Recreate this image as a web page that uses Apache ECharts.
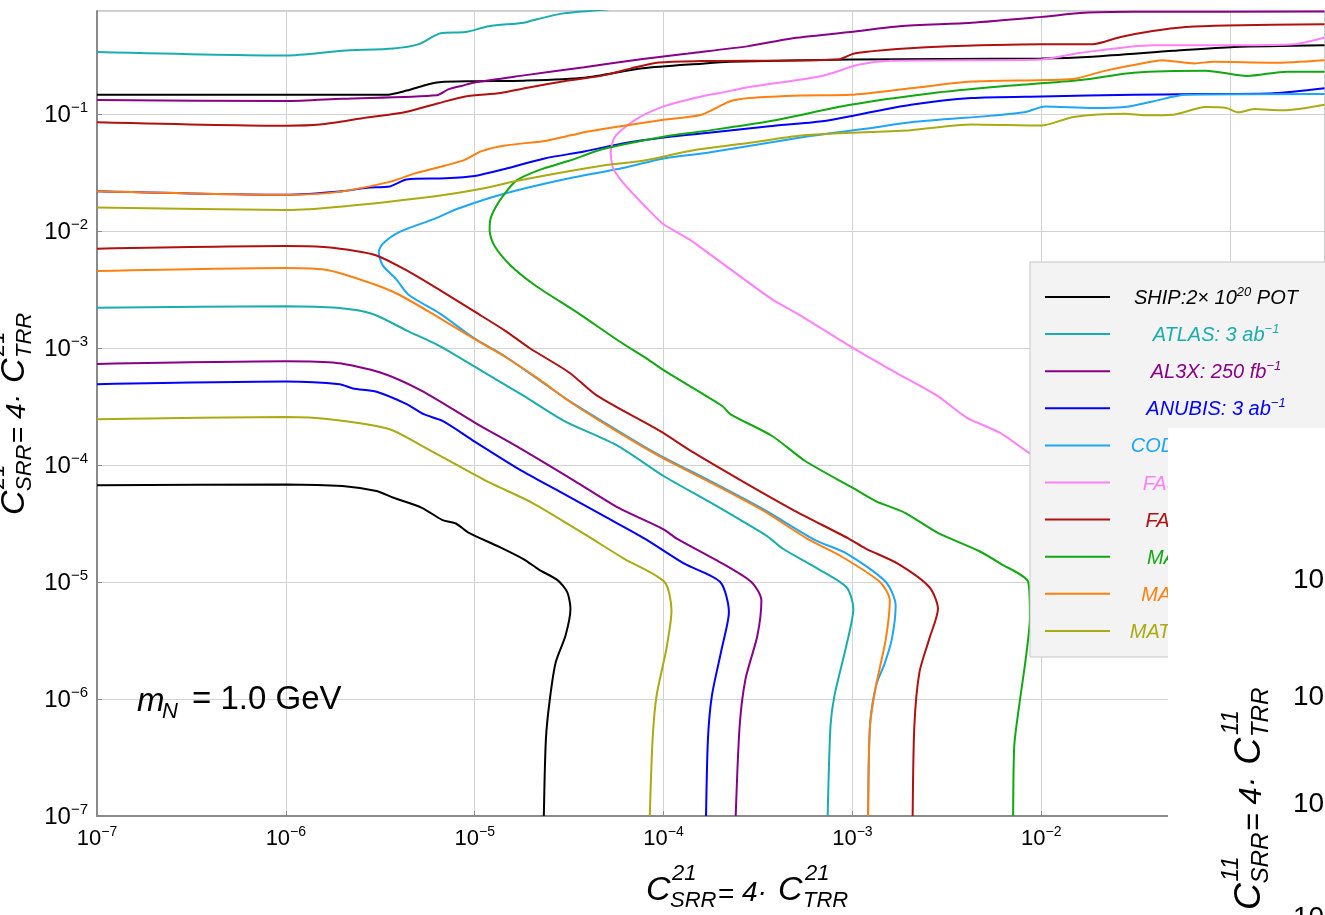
<!DOCTYPE html>
<html>
<head>
<meta charset="utf-8">
<script src="https://cdn.jsdelivr.net/npm/echarts@6/dist/echarts.min.js"></script>
<style>
  html, body { margin: 0; padding: 0; background: #fff; }
  #chart { width: 1325px; height: 915px; }
</style>
</head>
<body>
<div id="chart"></div>
<script>
// every point is [log10 C21, log10 C11]
const shipTop = [[-7,-0.836],[-5.47,-0.836],[-5.36,-0.80],[-5.20,-0.73],[-5.0,-0.72],[-4.74,-0.715],[-4.42,-0.69],[-4.11,-0.61],[-3.80,-0.57],[-3.65,-0.554],[-3.01,-0.534],[-2.0,-0.525],[-1.73,-0.51],[-1.30,-0.46],[-0.98,-0.427],[-0.5,-0.412]];
const shipBottom = [[-7,-4.174],[-6,-4.166],[-5.70,-4.18],[-5.52,-4.223],[-5.43,-4.28],[-5.28,-4.366],[-5.17,-4.471],[-5.10,-4.50],[-5.03,-4.58],[-4.87,-4.70],[-4.74,-4.806],[-4.66,-4.894],[-4.56,-4.986],[-4.51,-5.086],[-4.493,-5.229],[-4.519,-5.457],[-4.571,-5.686],[-4.602,-6.0],[-4.623,-6.343],[-4.634,-7]];

const atlasTop = [[-7,-0.47],[-6,-0.50],[-5.70,-0.46],[-5.43,-0.44],[-5.30,-0.405],[-5.18,-0.31],[-5.05,-0.30],[-4.925,-0.25],[-4.74,-0.22],[-4.67,-0.19],[-4.53,-0.14],[-4.32,-0.11],[-4.1,-0.06]];
const atlasBottom = [[-7,-2.657],[-6,-2.643],[-5.73,-2.657],[-5.54,-2.709],[-5.36,-2.851],[-5.19,-2.98],[-5.0,-3.16],[-4.74,-3.41],[-4.53,-3.62],[-4.24,-3.838],[-4.0,-4.094],[-3.75,-4.322],[-3.45,-4.61],[-3.37,-4.714],[-3.2,-4.871],[-3.032,-5.043],[-2.995,-5.229],[-3.032,-5.543],[-3.095,-5.971],[-3.116,-6.229],[-3.131,-7]];

const al3xTop = [[-7,-0.88],[-6,-0.89],[-5.70,-0.87],[-5.20,-0.84],[-5.14,-0.79],[-5.07,-0.76],[-5.0,-0.73],[-4.74,-0.67],[-4.42,-0.60],[-4.11,-0.53],[-3.87,-0.483],[-3.55,-0.42],[-3.33,-0.356],[-3.01,-0.30],[-2.75,-0.25],[-2.37,-0.22],[-2.0,-0.17],[-1.77,-0.135],[-1.51,-0.127],[-0.5,-0.125]];
const al3xBottom = [[-7,-3.137],[-6,-3.114],[-5.73,-3.129],[-5.50,-3.209],[-5.28,-3.366],[-5.0,-3.637],[-4.75,-3.866],[-4.47,-4.137],[-4.24,-4.365],[-4.0,-4.55],[-3.93,-4.629],[-3.72,-4.814],[-3.535,-5.0],[-3.482,-5.157],[-3.503,-5.457],[-3.566,-5.829],[-3.597,-6.229],[-3.618,-7]];

const anubisTop = [[-7,-1.66],[-6,-1.69],[-5.70,-1.66],[-5.57,-1.63],[-5.45,-1.62],[-5.36,-1.56],[-5.155,-1.55],[-5.0,-1.53],[-4.84,-1.47],[-4.63,-1.38],[-4.42,-1.32],[-4.21,-1.25],[-4.0,-1.20],[-3.76,-1.16],[-3.44,-1.105],[-3.16,-1.062],[-2.97,-1.006],[-2.69,-0.921],[-2.37,-0.864],[-2.0,-0.85],[-1.51,-0.836],[-1.19,-0.83],[-0.77,-0.822],[-0.5,-0.78]];
const anubisBottom = [[-7,-3.309],[-6,-3.286],[-5.715,-3.309],[-5.645,-3.346],[-5.52,-3.374],[-5.36,-3.48],[-5.27,-3.566],[-5.17,-3.623],[-5.0,-3.80],[-4.75,-4.051],[-4.54,-4.237],[-4.30,-4.45],[-4.1,-4.629],[-3.89,-4.843],[-3.70,-5.0],[-3.654,-5.257],[-3.692,-5.571],[-3.744,-5.971],[-3.765,-6.343],[-3.775,-7]];

const codexCurve = [[-0.5,-0.83],[-1.235,-0.836],[-1.41,-0.893],[-1.535,-0.935],[-1.73,-0.949],[-1.98,-0.935],[-2.09,-0.986],[-2.26,-1.014],[-2.69,-1.071],[-2.90,-1.119],[-3.225,-1.189],[-3.76,-1.33],[-4.0,-1.38],[-4.21,-1.46],[-4.53,-1.56],[-4.84,-1.68],[-5.09,-1.81],[-5.21,-1.894],[-5.40,-2.009],[-5.487,-2.109],[-5.508,-2.18],[-5.487,-2.294],[-5.417,-2.409],[-5.35,-2.545],[-5.18,-2.71],[-5.0,-2.92],[-4.85,-3.06],[-4.52,-3.43],[-4.28,-3.67],[-4.04,-3.90],[-3.75,-4.14],[-3.47,-4.38],[-3.2,-4.64],[-3.03,-4.757],[-2.823,-5.0],[-2.771,-5.2],[-2.791,-5.486],[-2.83,-5.70],[-2.875,-5.886],[-2.907,-6.229],[-2.917,-7]];

const faserCurve = [[-0.5,-0.347],[-0.66,-0.404],[-0.98,-0.412],[-1.41,-0.412],[-1.79,-0.477],[-2.0,-0.534],[-2.80,-0.545],[-2.97,-0.58],[-3.16,-0.675],[-3.545,-0.77],[-3.70,-0.82],[-3.80,-0.85],[-4.0,-0.935],[-4.15,-1.05],[-4.255,-1.19],[-4.28,-1.33],[-4.27,-1.45],[-4.255,-1.5],[-4.20,-1.615],[-4.10,-1.786],[-4.0,-1.943],[-3.864,-2.071],[-3.645,-2.328],[-3.425,-2.584],[-3.294,-2.704],[-3.0,-2.997],[-2.77,-3.211],[-2.55,-3.41],[-2.395,-3.595],[-2.22,-3.724],[-2.066,-3.895],[-1.6,-4.35],[-1.0,-4.9]];

const faser2Top = [[-7,-1.07],[-6,-1.10],[-5.82,-1.09],[-5.57,-1.03],[-5.385,-0.99],[-5.197,-0.91],[-5.05,-0.85],[-4.862,-0.82],[-4.736,-0.78],[-4.527,-0.72],[-4.318,-0.67],[-4.172,-0.61],[-4.025,-0.56],[-3.8,-0.548],[-3.075,-0.534],[-2.99,-0.483],[-2.84,-0.455],[-2.58,-0.427],[-2.0,-0.404],[-1.73,-0.404],[-1.58,-0.342],[-1.41,-0.291],[-1.235,-0.257],[-1.02,-0.243],[-0.5,-0.234]];
const faser2Bottom = [[-7,-2.151],[-6,-2.129],[-5.80,-2.137],[-5.63,-2.171],[-5.52,-2.209],[-5.36,-2.337],[-5.18,-2.51],[-5.0,-2.69],[-4.84,-2.851],[-4.71,-3.0],[-4.50,-3.209],[-4.35,-3.41],[-4.02,-3.709],[-3.84,-3.895],[-3.60,-4.123],[-3.32,-4.379],[-3.02,-4.629],[-2.93,-4.714],[-2.76,-4.843],[-2.593,-5.043],[-2.547,-5.229],[-2.593,-5.486],[-2.645,-5.771],[-2.672,-6.229],[-2.681,-7]];

const mapp1Curve = [[-0.5,-0.638],[-0.70,-0.638],[-0.91,-0.675],[-1.13,-0.63],[-1.51,-0.647],[-1.79,-0.709],[-2.22,-0.765],[-2.58,-0.822],[-3.01,-0.921],[-3.44,-1.062],[-3.80,-1.15],[-4.0,-1.195],[-4.32,-1.30],[-4.50,-1.40],[-4.66,-1.48],[-4.78,-1.57],[-4.85,-1.70],[-4.89,-1.80],[-4.917,-1.90],[-4.921,-2.0],[-4.895,-2.128],[-4.807,-2.299],[-4.675,-2.47],[-4.456,-2.698],[-4.237,-2.94],[-4.083,-3.097],[-3.996,-3.194],[-3.689,-3.496],[-3.645,-3.567],[-3.425,-3.752],[-3.25,-3.966],[-3.0,-4.194],[-2.877,-4.308],[-2.724,-4.407],[-2.55,-4.578],[-2.33,-4.735],[-2.216,-4.843],[-2.069,-5.0],[-2.06,-5.3],[-2.08,-5.629],[-2.122,-6.114],[-2.143,-6.4],[-2.149,-7]];

const mapp2Top = [[-7,-1.66],[-6,-1.69],[-5.74,-1.67],[-5.45,-1.58],[-5.32,-1.51],[-5.155,-1.44],[-5.05,-1.39],[-4.967,-1.32],[-4.84,-1.27],[-4.63,-1.23],[-4.485,-1.18],[-4.40,-1.15],[-4.21,-1.10],[-4.0,-1.05],[-3.80,-1.006],[-3.65,-0.893],[-3.545,-0.864],[-3.27,-0.842],[-3.01,-0.836],[-2.69,-0.78],[-2.37,-0.723],[-1.83,-0.70],[-1.68,-0.638],[-1.51,-0.582],[-1.36,-0.54],[-1.19,-0.568],[-1.09,-0.554],[-0.77,-0.562],[-0.5,-0.54]];
const mapp2Bottom = [[-7,-2.343],[-6,-2.317],[-5.77,-2.337],[-5.54,-2.451],[-5.40,-2.545],[-5.19,-2.74],[-5.0,-2.925],[-4.84,-3.075],[-4.66,-3.266],[-4.49,-3.466],[-4.29,-3.67],[-4.04,-3.909],[-3.75,-4.151],[-3.47,-4.393],[-3.24,-4.629],[-3.06,-4.78],[-2.854,-5.0],[-2.802,-5.157],[-2.823,-5.486],[-2.875,-5.886],[-2.907,-6.229],[-2.917,-7]];

const mathuslaTop = [[-7,-1.80],[-6,-1.82],[-5.70,-1.79],[-5.20,-1.70],[-5.0,-1.65],[-4.74,-1.56],[-4.32,-1.44],[-4.11,-1.40],[-3.84,-1.31],[-3.545,-1.246],[-3.27,-1.184],[-3.01,-1.161],[-2.69,-1.138],[-2.37,-1.09],[-2.0,-1.099],[-1.83,-1.025],[-1.556,-0.997],[-1.45,-1.011],[-1.30,-1.006],[-1.13,-0.941],[-1.02,-0.949],[-0.957,-0.986],[-0.872,-0.958],[-0.72,-0.969],[-0.5,-0.921]];
const mathuslaBottom = [[-7,-3.609],[-6,-3.589],[-5.77,-3.609],[-5.45,-3.694],[-5.28,-3.837],[-5.1,-3.994],[-4.92,-4.151],[-4.70,-4.32],[-4.41,-4.60],[-4.21,-4.80],[-3.995,-5.0],[-3.958,-5.243],[-3.985,-5.571],[-4.037,-5.971],[-4.058,-6.343],[-4.073,-7]];

const detectors = ['SHIP', 'ATLAS', 'AL3X', 'ANUBIS', 'CODEX-b', 'FASER', 'FASER2', 'MAPP1', 'MAPP2', 'MATHUSLA'];
const colors = ['#000000', '#1aadad', '#880088', '#0000ff', '#1ea6f5', '#ff80f8', '#b01010', '#11a811', '#ff8010', '#aaaa12'];
const curves = [
  [shipTop, shipBottom], [atlasTop, atlasBottom], [al3xTop, al3xBottom], [anubisTop, anubisBottom],
  [codexCurve], [faserCurve], [faser2Top, faser2Bottom], [mapp1Curve], [mapp2Top, mapp2Bottom],
  [mathuslaTop, mathuslaBottom]
];
// legend text: [before superscript, superscript, after]
const legendText = [
  ['SHIP:2\u00d7 10', '20', ' POT'], ['ATLAS: 3 ab', '\u22121', ''], ['AL3X: 250 fb', '\u22121', ''],
  ['ANUBIS: 3 ab', '\u22121', ''], ['CODEX-b: 300 fb', '\u22121', ''], ['FASER: 150 fb', '\u22121', ''],
  ['FASER2: 3 ab', '\u22121', ''], ['MAPP1: 30 fb', '\u22121', ''], ['MAPP2: 300 fb', '\u22121', ''],
  ['MATHUSLA: 3 ab', '\u22121', '']
];
const xMin = 1e-7, xMax = 0.318;
const yMin = 1e-7, yMax = 0.759;

const FONT = '"Liberation Sans", Arial, sans-serif';
const chart = echarts.init(document.getElementById('chart'));

const series = [];
detectors.forEach((name, i) => {
  curves[i].forEach(part => {
    series.push({
      name: name,
      type: 'line',
      data: part.map(p => [Math.pow(10, p[0]), Math.pow(10, p[1])]),
      showSymbol: false,
      silent: true,
      clip: true,
      smooth: 0.25,
      lineStyle: { color: colors[i], width: 2 },
      itemStyle: { color: colors[i] }
    });
  });
});

function expLabel(v) {
  const e = Math.round(Math.log10(v));
  return '{b|10}{s|' + (e < 0 ? '\u2212' + (-e) : e) + '}';
}

function t(x, y, text, size, italic, z) {
  return {
    type: 'text', x: x, y: y, z: z || 60,
    style: {
      text: text, fill: '#000',
      font: (italic ? 'italic ' : '') + size + 'px ' + FONT,
      align: 'left', verticalAlign: 'middle'
    }
  };
}

// C^{sup}_{SRR} = 4 . C^{sup}_{TRR}, laid out from the first C
function coeffTitle(sup) {
  return [
    t(0, 0, 'C', 34, true), t(26, -17, sup, 22, true), t(24, 10, 'SRR', 22, true),
    t(72, 4, '=', 28, false), t(96, 2, '4\u00b7', 28, true),
    t(132, 0, 'C', 34, true), t(159, -17, sup, 22, true), t(157, 10, 'TRR', 22, true)
  ];
}

const graphics = [];
// legend box
graphics.push({
  type: 'rect', z: 40,
  shape: { x: 1030, y: 262, width: 400, height: 395 },
  style: { fill: '#f3f3f3', stroke: '#c6c6c6', lineWidth: 1 }
});
detectors.forEach((name, i) => {
  const cy = 297 + i * 37.1;
  graphics.push({
    type: 'line', z: 41,
    shape: { x1: 1045, y1: cy, x2: 1110, y2: cy },
    style: { stroke: colors[i], lineWidth: 2 }
  });
  const lt = legendText[i];
  graphics.push({
    type: 'text', z: 41, x: 1216, y: cy,
    style: {
      text: '{a|' + lt[0] + '}{s|' + lt[1] + '}' + (lt[2] ? '{a|' + lt[2] + '}' : ''),
      align: 'center', verticalAlign: 'middle',
      rich: {
        a: { fill: colors[i], fontSize: 20, fontStyle: 'italic', fontFamily: FONT, verticalAlign: 'bottom' },
        s: { fill: colors[i], fontSize: 13, fontStyle: 'italic', fontFamily: FONT, verticalAlign: 'bottom', padding: [0, 0, 10, 0] }
      }
    }
  });
});
// neighbouring panel covering the lower right corner
graphics.push({
  type: 'rect', z: 50,
  shape: { x: 1168, y: 428, width: 170, height: 500 },
  style: { fill: '#ffffff' }
});
[580, 697, 804, 918].forEach(y => graphics.push(t(1293, y, '10', 28, false)));
graphics.push({ type: 'group', x: 1250, y: 910, rotation: Math.PI / 2, scaleX: 1.1, scaleY: 1.1, children: coeffTitle('11') });
// axis titles
graphics.push({ type: 'group', x: 646, y: 891, children: coeffTitle('21') });
graphics.push({ type: 'group', x: 15, y: 515, rotation: Math.PI / 2, children: coeffTitle('21') });
// mass label
graphics.push(t(137, 702, 'm', 33, true));
graphics.push(t(162, 712, 'N', 22, true));
graphics.push(t(192, 700, '= 1.0 GeV', 33, false));

const axisCommon = {
  type: 'log',
  logBase: 10,
  axisLine: { show: true, onZero: false, lineStyle: { color: '#8a8a8a', width: 2 } },
  axisTick: { show: true, inside: true, length: 5, lineStyle: { color: '#8a8a8a' } },
  minorTick: { show: false },
  splitLine: { show: true, lineStyle: { color: '#d2d2d2', width: 1 } }
};

const option = {
  animation: false,
  backgroundColor: '#ffffff',
  grid: {
    left: 97, right: -1, top: 11, bottom: 99,
    show: true, borderColor: '#9a9a9a', borderWidth: 1
  },
  xAxis: Object.assign({}, axisCommon, {
    min: xMin, max: xMax, splitNumber: 7,
    axisLabel: {
      margin: 9, showMaxLabel: false, color: '#000',
      formatter: expLabel,
      rich: {
        b: { fontSize: 22, fontFamily: FONT, color: '#000', verticalAlign: 'bottom' },
        s: { fontSize: 14, fontFamily: FONT, color: '#000', verticalAlign: 'bottom', padding: [0, 0, 11, 0] }
      }
    }
  }),
  yAxis: Object.assign({}, axisCommon, {
    min: yMin, max: yMax, splitNumber: 7,
    axisLabel: {
      margin: 9, showMaxLabel: false, color: '#000',
      formatter: expLabel,
      rich: {
        b: { fontSize: 24, fontFamily: FONT, color: '#000', verticalAlign: 'bottom' },
        s: { fontSize: 15, fontFamily: FONT, color: '#000', verticalAlign: 'bottom', padding: [0, 0, 12, 0] }
      }
    }
  }),
  series: series,
  graphic: { elements: graphics }
};

chart.setOption(option);
</script>
</body>
</html>
